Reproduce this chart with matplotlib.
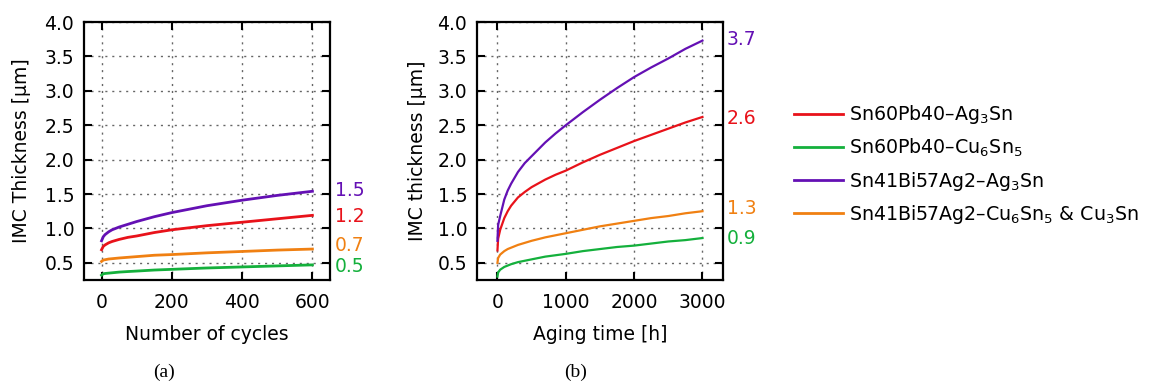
import matplotlib
matplotlib.use("Agg")
import matplotlib.pyplot as plt

plt.rcParams['font.family'] = ['DejaVu Sans']
plt.rcParams['mathtext.fontset'] = 'dejavusans'

# (a) thermal cycling
cycles = [0, 5, 10, 20, 30, 50, 75, 100, 150, 200, 300, 400, 500, 600]
a_snpb_ag3sn = [0.69, 0.74, 0.76, 0.79, 0.81, 0.84, 0.87, 0.89, 0.94, 0.98, 1.04, 1.09, 1.14, 1.19]
a_snpb_cu6sn5 = [0.32, 0.34, 0.345, 0.35, 0.355, 0.365, 0.373, 0.38, 0.395, 0.405, 0.425, 0.44, 0.455, 0.47]
a_snbi_ag3sn = [0.82, 0.88, 0.91, 0.95, 0.98, 1.02, 1.06, 1.10, 1.17, 1.23, 1.33, 1.41, 1.48, 1.54]
a_snbi_cu = [0.52, 0.54, 0.545, 0.555, 0.56, 0.57, 0.58, 0.59, 0.61, 0.62, 0.645, 0.665, 0.685, 0.70]
a_end_labels = ["1.2", "0.5", "1.5", "0.7"]

# (b) isothermal aging
hours = [0, 10, 40, 100, 150, 200, 300, 400, 500, 700, 850, 1000, 1250, 1500, 1750, 2000, 2250, 2500, 2750, 3000]
b_snpb_ag3sn = [0.68, 0.85, 0.98, 1.15, 1.25, 1.33, 1.45, 1.53, 1.60, 1.71, 1.78, 1.84, 1.96, 2.07, 2.17, 2.27, 2.36, 2.45, 2.54, 2.62]
b_snpb_cu6sn5 = [0.30, 0.36, 0.40, 0.44, 0.46, 0.48, 0.51, 0.53, 0.55, 0.59, 0.61, 0.63, 0.67, 0.70, 0.73, 0.75, 0.78, 0.81, 0.83, 0.86]
b_snbi_ag3sn = [0.82, 1.05, 1.18, 1.42, 1.55, 1.65, 1.82, 1.95, 2.05, 2.25, 2.38, 2.50, 2.69, 2.87, 3.04, 3.20, 3.34, 3.47, 3.61, 3.73]
b_snbi_cu = [0.50, 0.57, 0.62, 0.67, 0.70, 0.72, 0.76, 0.79, 0.82, 0.87, 0.90, 0.93, 0.98, 1.03, 1.07, 1.11, 1.15, 1.18, 1.22, 1.25]
b_end_labels = ["2.6", "0.9", "3.7", "1.3"]

names = [r"Sn60Pb40–Ag$_3$Sn", r"Sn60Pb40–Cu$_6$Sn$_5$",
         r"Sn41Bi57Ag2–Ag$_3$Sn", r"Sn41Bi57Ag2–Cu$_6$Sn$_5$ & Cu$_3$Sn"]
colors = ["#e8121a", "#14b03c", "#6410b4", "#f08012"]

fs = 13.5

fig = plt.figure(figsize=(11.49, 3.83), dpi=100)
ax1 = fig.add_axes([0.0731, 0.2689, 0.2141, 0.6736])
ax2 = fig.add_axes([0.4151, 0.2689, 0.2141, 0.6736])


def style(ax, xticks, xlim, xlabel, ylabel, ypad):
    ax.set_xlim(*xlim)
    ax.set_ylim(0.25, 4.0)
    ax.set_xticks(xticks)
    ax.set_yticks([0.5, 1.0, 1.5, 2.0, 2.5, 3.0, 3.5, 4.0])
    ax.set_yticklabels(["0.5", "1.0", "1.5", "2.0", "2.5", "3.0", "3.5", "4.0"])
    ax.tick_params(direction="in", length=6, width=1.5, top=True, right=True,
                   labelsize=fs, pad=7)
    ax.tick_params(axis="x", pad=9)
    ax.grid(True, color="#666666", linestyle=(0, (1.5, 3.5)), linewidth=1)
    for s in ax.spines.values():
        s.set_linewidth(1.6)
    ax.set_xlabel(xlabel, fontsize=fs, labelpad=10)
    ax.set_ylabel(ylabel, fontsize=fs, labelpad=ypad)


style(ax1, [0, 200, 400, 600], (-50, 650), "Number of cycles", "IMC Thickness [µm]", 9.5)
style(ax2, [0, 1000, 2000, 3000], (-300, 3300), "Aging time [h]", "IMC thickness [µm]", 7.5)

a_series = [a_snpb_ag3sn, a_snpb_cu6sn5, a_snbi_ag3sn, a_snbi_cu]
b_series = [b_snpb_ag3sn, b_snpb_cu6sn5, b_snbi_ag3sn, b_snbi_cu]
a_offsets = [-0.02, -0.03, 0.01, 0.05]
b_offsets = [-0.02, -0.01, 0.02, 0.04]

for ys, c, lab, off, name in zip(a_series, colors, a_end_labels, a_offsets, names):
    ax1.plot(cycles, ys, color=c, linewidth=2, label=name)
    ax1.text(663, ys[-1] + off, lab, color=c, fontsize=fs, va="center",
             ha="left", clip_on=False)

for ys, c, lab, off in zip(b_series, colors, b_end_labels, b_offsets):
    ax2.plot(hours, ys, color=c, linewidth=1.6)
    ax2.text(3360, ys[-1] + off, lab, color=c, fontsize=fs, va="center",
             ha="left", clip_on=False)

handles, labels = ax1.get_legend_handles_labels()
fig.legend(handles, labels, loc="upper left", bbox_to_anchor=(0.684, 0.75),
           frameon=False, fontsize=13.7, handlelength=2.6, handletextpad=0.3,
           labelspacing=0.55, borderaxespad=0)

fig.text(0.1427, 0.0287, "(a)", family="Liberation Serif", fontsize=14,
         ha="center", va="center")
fig.text(0.5005, 0.0287, "(b)", family="Liberation Serif", fontsize=14,
         ha="center", va="center")

fig.savefig("out.png", dpi=100)
